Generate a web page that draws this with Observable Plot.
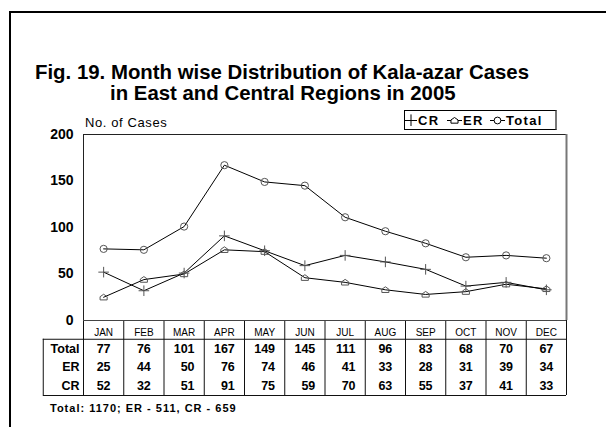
<!DOCTYPE html>
<html>
<head>
<meta charset="utf-8">
<script src="https://cdn.jsdelivr.net/npm/d3@7"></script>
<script src="https://cdn.jsdelivr.net/npm/@observablehq/plot@0.6"></script>
<style>
  body { margin: 0; background: #fff; font-family: "Liberation Sans", Arial, sans-serif; }
  #wrap { position: relative; width: 606px; height: 427px; overflow: hidden; background: #fff; }
  #border { position: absolute; left: 9px; top: 11px; width: 620px; height: 440px; border-left: 2px solid #000; border-top: 2px solid #000; }
  .abs { position: absolute; white-space: nowrap; line-height: 1; color: #000; }
  .title { font-weight: bold; font-size: 20.4px; }
  #legend { position: absolute; left: 404px; top: 110px; width: 150px; height: 18px; border: 1px solid #000; border-right: 2px solid #777; background: #fff;
            font-weight: bold; font-size: 13px; }
  #legend .item { position: absolute; top: 0; height: 18px; display: flex; align-items: center; letter-spacing: 1.3px; }
  #legend svg { display: block; margin-right: 1px; }
  #chart, #table { position: absolute; left: 0; }
</style>
</head>
<body>
<div id="wrap">
  <div id="chart"></div>
  <div id="table"></div>
  <div id="border"></div>
  <div class="abs title" id="t1" style="left:35px; top:61.7px;">Fig. 19. Month wise Distribution of Kala-azar Cases</div>
  <div class="abs title" id="t2" style="left:110px; top:82.7px;">in East and Central Regions in 2005</div>
  <div class="abs" id="ylab" style="left:85px; top:116px; font-size:13px; letter-spacing:0.6px;">No. of Cases</div>
  <div id="legend"></div>
  <div class="abs" id="foot" style="left:50px; top:403.4px; font-size:11px; font-weight:bold; letter-spacing:1px;">Total: 1170; ER - 511, CR - 659</div>
</div>
<script>
// ---- data ----
const months = ["JAN","FEB","MAR","APR","MAY","JUN","JUL","AUG","SEP","OCT","NOV","DEC"];
const total  = [77, 76, 101, 167, 149, 145, 111, 96, 83, 68, 70, 67];
const er     = [25, 44, 50, 76, 74, 46, 41, 33, 28, 31, 39, 34];
const cr     = [52, 32, 51, 91, 75, 59, 70, 63, 55, 37, 41, 33];
const legendNames = ["CR", "ER", "Total"];
const rowNames = ["Total", "ER", "CR"];
const yTicks = [0, 50, 100, 150, 200];

// ---- styling ----
const font = "Liberation Sans, Arial, sans-serif";
const markerColor = "#555";
const house = {
  draw(ctx, size) {
    const s = Math.sqrt(size) / 2;
    ctx.moveTo(-s, s * 0.75);
    ctx.lineTo(s, s * 0.75);
    ctx.lineTo(s, -s * 0.15);
    ctx.lineTo(0, -s * 0.85);
    ctx.lineTo(-s, -s * 0.15);
    ctx.closePath();
  }
};
const symbols = {CR: d3.symbolPlus, ER: house, Total: d3.symbolCircle};
const markerR = {CR: 3.5, ER: 4, Total: 3.6};
const seriesVals = {CR: cr, ER: er, Total: total};

const rows = [];
for (const name of legendNames) seriesVals[name].forEach((v, i) => rows.push({i, month: months[i], value: v, series: name}));

// ---- chart ----
const chart = Plot.plot({
  width: 606,
  height: 332,
  marginTop: 134,
  marginBottom: 12,
  marginLeft: 83,
  marginRight: 40,
  style: {fontFamily: font, background: "transparent", color: "#000", overflow: "visible"},
  x: {domain: [-0.5, months.length - 0.5], axis: null},
  y: {domain: [0, 200], axis: null},
  marks: [
    Plot.frame({stroke: "#222"}),
    Plot.ruleX([months.length - 0.5], {stroke: "#777", strokeWidth: 2}),
    Plot.axisY({ticks: yTicks, tickSize: 0, tickPadding: 10, fontSize: 14, fontWeight: "bold", fill: "#000", label: null}),
    Plot.line(rows, {x: "i", y: "value", z: "series", stroke: "#000", strokeWidth: 1}),
    ...legendNames.map(name => Plot.dot(rows.filter(d => d.series === name), {
      x: "i", y: "value", symbol: symbols[name], r: markerR[name],
      stroke: markerColor, fill: "none", strokeWidth: 1
    }))
  ]
});
document.getElementById("chart").appendChild(chart);
document.getElementById("chart").style.top = "0px";

// ---- table ----
const colIdx = d3.range(months.length);
const fs = 12.5, digitW = 0.556 * fs;
const valueMarks = [];
[total, er, cr].forEach((vals, r) => {
  for (const len of [2, 3]) {
    valueMarks.push(Plot.text(colIdx.filter(i => String(total[i]).length === len), {
      x: i => i, y: () => r + 1.5, text: i => String(vals[i]),
      textAnchor: "end", dx: len * digitW / 2, fontSize: fs, fontWeight: "bold", fill: "#000"
    }));
  }
});
const table = Plot.plot({
  width: 606,
  height: 77,
  marginTop: 1,
  marginBottom: 1,
  marginLeft: 83 - (566 - 83) / 12,
  marginRight: 40,
  style: {fontFamily: font, background: "transparent", color: "#000"},
  x: {domain: [-1.5, months.length - 0.5], axis: null},
  y: {domain: [0, rowNames.length + 1], reverse: true, axis: null},
  marks: [
    Plot.ruleX(d3.range(months.length + 1), {x: i => i - 0.5, y1: 0, y2: rowNames.length + 1, stroke: "#111"}),
    Plot.ruleX([-1.5], {y1: 1, y2: rowNames.length + 1, stroke: "#111"}),
    Plot.ruleY([1, rowNames.length + 1], {x1: -1.5, x2: months.length - 0.5, stroke: "#111"}),
    Plot.ruleY([0], {x1: -0.5, x2: months.length - 0.5, stroke: "#444"}),
    Plot.text(months, {x: (d, i) => i, y: () => 0.5, text: d => d, fontSize: 10, dy: 3, fill: "#000"}),
    Plot.text(rowNames, {x: () => -0.5, y: (d, i) => i + 1.5, text: d => d, textAnchor: "end", dx: -4, fontSize: fs, fontWeight: "bold", fill: "#000"}),
    ...valueMarks
  ]
});
const tdiv = document.getElementById("table");
tdiv.appendChild(table);
tdiv.style.top = "319px";

// ---- legend ----
const legend = document.getElementById("legend");
const itemLeft = {CR: 0, ER: 42, Total: 85};
const swatchW = {CR: 12, ER: 15, Total: 15};
for (const name of legendNames) {
  const item = document.createElement("span");
  item.className = "item";
  item.style.left = itemLeft[name] + "px";
  const w = swatchW[name];
  const svg = d3.create("svg").attr("width", w).attr("height", 12);
  svg.append("line").attr("x1", 0).attr("x2", w).attr("y1", 6.5).attr("y2", 6.5).attr("stroke", "#000");
  const sym = d3.symbol(symbols[name], name === "Total" ? Math.PI * 3.4 * 3.4 : Math.PI * 16);
  svg.append("path").attr("d", sym()).attr("transform", `translate(${w / 2},6.5)`).attr("fill", name === "CR" ? "none" : "#fff").attr("stroke", "#000");
  item.appendChild(svg.node());
  const t = document.createElement("span");
  t.textContent = name;
  item.appendChild(t);
  legend.appendChild(item);
}
</script>
</body>
</html>
